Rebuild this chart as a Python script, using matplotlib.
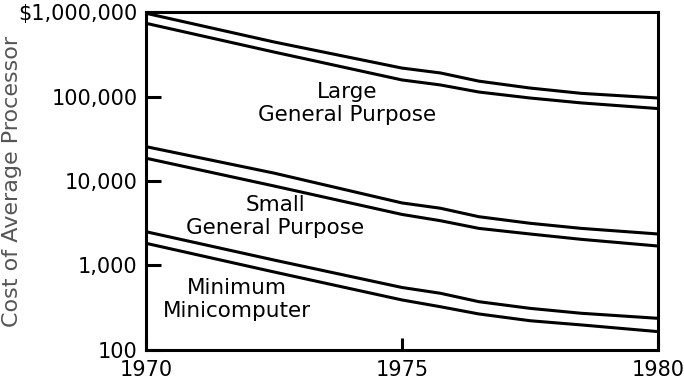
"""Cost of average processor, 1970-1980 (log scale)"""
import matplotlib
matplotlib.use("Agg")
from matplotlib import pyplot as plt

years = [1970, 1972.5, 1975, 1975.75, 1976.5, 1977.5, 1978.5, 1980]

# each class is drawn as a band between an upper and a lower line
large_upper = [966000, 442000, 217000, 190000, 152000, 126000, 109000, 96000]
large_lower = [735000, 336000, 157000, 137000, 113000, 96000, 84000, 72000]
small_upper = [25500, 12400, 5500, 4760, 3780, 3160, 2750, 2360]
small_lower = [18600, 8730, 4020, 3390, 2750, 2360, 2040, 1700]
mini_upper = [2510, 1160, 549, 469, 373, 311, 272, 237]
mini_lower = [1830, 838, 391, 325, 267, 222, 198, 165]

ytick_values = [100, 1000, 10000, 100000, 1000000]
ytick_labels = ["100", "1,000", "10,000", "100,000", "$1,000,000"]
xtick_values = [1970, 1975, 1980]

plt.rcParams["font.family"] = "DejaVu Sans"

fig = plt.figure(figsize=(6.84, 3.90), dpi=100)
ax = fig.add_axes([0.2135, 0.1026, 0.7485, 0.8666])

for series in (large_upper, large_lower, small_upper, small_lower,
               mini_upper, mini_lower):
    ax.plot(years, series, color="black", lw=2.2,
            solid_joinstyle="round", solid_capstyle="butt")

ax.set_yscale("log")
ax.set_xlim(1970, 1980)
ax.set_ylim(100, 1000000)

ax.set_yticks(ytick_values)
ax.set_yticklabels(ytick_labels)
ax.minorticks_off()
ax.set_xticks(xtick_values)
ax.set_xticklabels([str(x) for x in xtick_values])

ax.tick_params(axis="y", direction="in", length=11, width=2.2,
               labelsize=15, pad=6)
ax.tick_params(axis="x", direction="in", length=9, width=2.2,
               labelsize=15, pad=7)

for side in ("left", "bottom", "top", "right"):
    ax.spines[side].set_linewidth(2.2)

ax.set_ylabel("Cost of Average Processor", fontsize=16, color="#555555",
              va="center")
ax.yaxis.set_label_coords(-0.262, 0.5)

# category labels placed in data coordinates
ax.text(1973.93, 82600, "Large\nGeneral Purpose", ha="center", va="center",
        fontsize=15.5, linespacing=1.15)
ax.text(1972.52, 3800, "Small\nGeneral Purpose", ha="center", va="center",
        fontsize=15.5, linespacing=1.15)
ax.text(1971.78, 396, "Minimum\nMinicomputer", ha="center", va="center",
        fontsize=15.5, linespacing=1.15)

plt.savefig("out.png", dpi=100)
